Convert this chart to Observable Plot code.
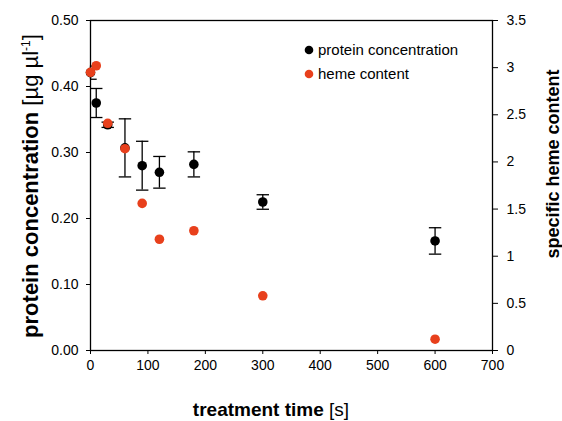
<!DOCTYPE html>
<html>
<head>
<meta charset="utf-8">
<script src="https://cdn.jsdelivr.net/npm/d3@7"></script>
<script src="https://cdn.jsdelivr.net/npm/@observablehq/plot@0.6"></script>
<style>
  html, body { margin: 0; padding: 0; background: #fff; }
  #chart svg { display: block; font-family: "Liberation Sans", Arial, sans-serif; }
</style>
</head>
<body>
<div id="chart"></div>
<script>
// ---- data ----
const time = [0, 10, 30, 60, 90, 120, 180, 300, 600];
const protein = [0.421, 0.375, 0.342, 0.307, 0.280, 0.270, 0.282, 0.225, 0.166];
const proteinErr = [0.010, 0.022, 0.004, 0.044, 0.037, 0.024, 0.019, 0.011, 0.020];
const heme = [2.95, 3.02, 2.41, 2.14, 1.56, 1.18, 1.27, 0.58, 0.12];
const xTicks = [0, 100, 200, 300, 400, 500, 600, 700];
const yLeftTicks = [0, 0.1, 0.2, 0.3, 0.4, 0.5];
const yRightTicks = [0, 0.5, 1, 1.5, 2, 2.5, 3, 3.5];
const legendLabels = ["protein concentration", "heme content"];
const colors = ["#000000", "#e8401c"];

const hemeMax = 3.5, proteinMax = 0.5;
const k = proteinMax / hemeMax;

const proteinData = time.map((t, i) => ({t, v: protein[i], lo: protein[i] - proteinErr[i], hi: protein[i] + proteinErr[i]}));
const hemeData = time.map((t, i) => ({t, v: heme[i] * k}));

const cap = {
  draw(context, size) {
    const w = Math.sqrt(size);
    context.moveTo(-w, 0);
    context.lineTo(w, 0);
  }
};

const W = 562, H = 421;
const plot = Plot.plot({
  width: W,
  height: H,
  marginLeft: 90,
  marginRight: 70,
  marginTop: 20,
  marginBottom: 71,
  style: {fontSize: "14px", fontFamily: "Liberation Sans, Arial, sans-serif", color: "#000", background: "#fff"},
  x: {domain: [0, 700]},
  y: {domain: [0, 0.5]},
  marks: [
    Plot.frame({stroke: "#000", strokeWidth: 1.3}),
    Plot.axisX({ticks: xTicks, tickSize: 4, tickPadding: 6, label: null, tickFormat: d3.format("d"), fontSize: 14}),
    Plot.axisY({anchor: "left", ticks: yLeftTicks, tickSize: 4, tickPadding: 8, label: null, tickFormat: d3.format(".2f"), fontSize: 14}),
    Plot.axisY({anchor: "right", ticks: yRightTicks.map(v => v * k), tickSize: 5, tickPadding: 9, label: null,
      tickFormat: v => String(Math.round(v / k * 10) / 10), fontSize: 14}),
    Plot.ruleX(proteinData, {x: "t", y1: "lo", y2: "hi", stroke: "#000", strokeWidth: 1.3}),
    Plot.dot(proteinData, {x: "t", y: "lo", symbol: cap, r: 3.5, stroke: "#000", strokeWidth: 1.3, clip: true}),
    Plot.dot(proteinData, {x: "t", y: "hi", symbol: cap, r: 3.5, stroke: "#000", strokeWidth: 1.3, clip: true}),
    Plot.dot(proteinData, {x: "t", y: "v", r: 4.8, fill: colors[0], stroke: "none"}),
    Plot.dot(hemeData, {x: "t", y: "v", r: 4.8, fill: colors[1], stroke: "none"})
  ]
});

document.getElementById("chart").appendChild(plot);

const svg = d3.select(plot);
// axis titles
const lt = svg.append("text")
  .attr("transform", "translate(38,186) rotate(-90)")
  .attr("text-anchor", "middle")
  .attr("font-size", 22)
  .attr("fill", "#000");
lt.append("tspan").attr("font-weight", "bold").text("protein concentration ");
lt.append("tspan").text("[µg µl");
lt.append("tspan").attr("font-size", 12).attr("dy", -8).text("-1");
lt.append("tspan").attr("dy", 8).text("]");

svg.append("text")
  .attr("transform", "translate(553,164) rotate(-90)")
  .attr("text-anchor", "middle")
  .attr("dy", "0.35em")
  .attr("font-size", 18)
  .attr("font-weight", "bold")
  .attr("fill", "#000")
  .text("specific heme content");

const bt = svg.append("text")
  .attr("x", 271).attr("y", 416)
  .attr("text-anchor", "middle")
  .attr("font-size", 19)
  .attr("fill", "#000");
bt.append("tspan").attr("font-weight", "bold").text("treatment time ");
bt.append("tspan").text("[s]");

// legend
const lg = svg.append("g");
legendLabels.forEach((lab, i) => {
  const y = 50 + i * 24;
  lg.append("circle").attr("cx", 309).attr("cy", y).attr("r", 4.3).attr("fill", colors[i]);
  lg.append("text").attr("x", 318).attr("y", y).attr("dy", "0.35em")
    .attr("text-anchor", "start")
    .attr("font-size", 15).attr("fill", "#000").text(lab);
});
</script>
</body>
</html>
